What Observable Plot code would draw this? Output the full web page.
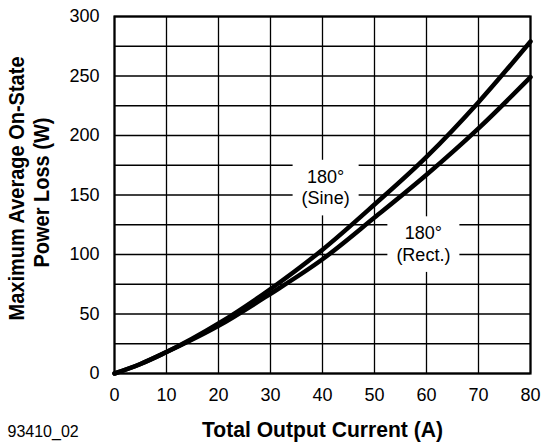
<!DOCTYPE html>
<html><head><meta charset="utf-8">
<script src="https://cdn.jsdelivr.net/npm/d3@7"></script>
<script src="https://cdn.jsdelivr.net/npm/@observablehq/plot@0.6"></script>
<style>body{margin:0;background:#fff}</style>
</head><body><div id="chart"></div>
<script>
// Data
const current  = [0, 5, 10, 20, 30, 40, 50, 60, 70, 80];
const sineLoss = [0, 8, 18, 42, 71, 104, 142, 182, 228, 279];
const rectLoss = [0, 8, 18, 40, 67, 96, 131, 167, 206, 249];

const xTicks = [0, 10, 20, 30, 40, 50, 60, 70, 80];
const yTicks = [0, 50, 100, 150, 200, 250, 300];
const yGridTicks = [0, 25, 50, 75, 100, 125, 150, 175, 200, 225, 250, 275, 300];

const labelText = ["180°\n(Sine)", "180°\n(Rect.)"];
const labelX = [40.6, 59.4];
const labelY = [157, 109.5];

const xTitle = "Total Output Current (A)";
const yTitle1 = "Maximum Average On-State";
const yTitle2 = "Power Loss (W)";
const footnote = "93410_02";

const rows = [
  ...current.map((c, i) => ({current: c, loss: sineLoss[i], s: "Sine"})),
  ...current.map((c, i) => ({current: c, loss: rectLoss[i], s: "Rect"}))
];
const labels = labelText.map((t, i) => ({t, x: labelX[i], y: labelY[i]}));

const font = "'Liberation Sans', Arial, Helvetica, sans-serif";

const chart = Plot.plot({
  width: 541,
  height: 446,
  marginLeft: 114,
  marginRight: 11,
  marginTop: 16,
  marginBottom: 73,
  style: {fontFamily: font, fontSize: "18px", background: "#fff", color: "#000"},
  x: {domain: [0, 80]},
  y: {domain: [0, 300]},
  marks: [
    Plot.gridX(xTicks, {stroke: "#000", strokeOpacity: 1, strokeWidth: 1.3}),
    Plot.gridY(yGridTicks, {stroke: "#000", strokeOpacity: 1, strokeWidth: 1.3}),
    Plot.text(labels, {x: "x", y: "y", text: "t", fontSize: 18, lineHeight: 1.2, fill: "#000", fontFamily: font}),
    Plot.axisX({ticks: xTicks, tickSize: 0, tickPadding: 15, label: null, fontSize: 18}),
    Plot.axisY({ticks: yTicks, tickSize: 0, tickPadding: 15, label: null, fontSize: 18}),
    Plot.frame({stroke: "#000", strokeWidth: 2.2}),
    Plot.line(rows, {x: "current", y: "loss", z: "s", stroke: "#000", strokeWidth: 4.5, curve: "monotone-x"}),
    Plot.text([xTitle], {frameAnchor: "bottom", dy: 63, fontSize: 22.5, fontWeight: "bold", fill: "#000"}),
    Plot.text([yTitle1], {frameAnchor: "left", textAnchor: "middle", dx: -98, dy: -6.5, rotate: -90, fontSize: 22.5, fontWeight: "bold", fill: "#000"}),
    Plot.text([yTitle2], {frameAnchor: "left", textAnchor: "middle", dx: -73, dy: -2.5, rotate: -90, fontSize: 22.5, fontWeight: "bold", fill: "#000"}),
    Plot.text([footnote], {frameAnchor: "bottom-left", dx: -107, dy: 63.5, textAnchor: "start", fontSize: 16, fill: "#000"})
  ]
});
document.getElementById("chart").appendChild(chart);

const svg = d3.select(chart);
// condensed bold titles
const fit = {[xTitle]: 241, [yTitle1]: 264, [yTitle2]: 150};
svg.selectAll("text").each(function () {
  const t = this.textContent;
  if (fit[t]) {
    this.setAttribute("textLength", fit[t]);
    this.setAttribute("lengthAdjust", "spacingAndGlyphs");
  }
});
// white boxes behind the curve labels
svg.selectAll("text").filter(function () {
  return this.querySelectorAll("tspan").length === 2 && this.textContent.startsWith("180");
}).each(function () {
  const b = this.getBBox();
  const padX = 9, padY = 7;
  const r = document.createElementNS("http://www.w3.org/2000/svg", "rect");
  r.setAttribute("x", b.x - padX);
  r.setAttribute("y", b.y - padY);
  r.setAttribute("width", b.width + 2 * padX);
  r.setAttribute("height", b.height + 2 * padY);
  r.setAttribute("fill", "#fff");
  const tr = this.getAttribute("transform");
  if (tr) r.setAttribute("transform", tr);
  this.parentNode.insertBefore(r, this);
});
</script>
</body></html>
